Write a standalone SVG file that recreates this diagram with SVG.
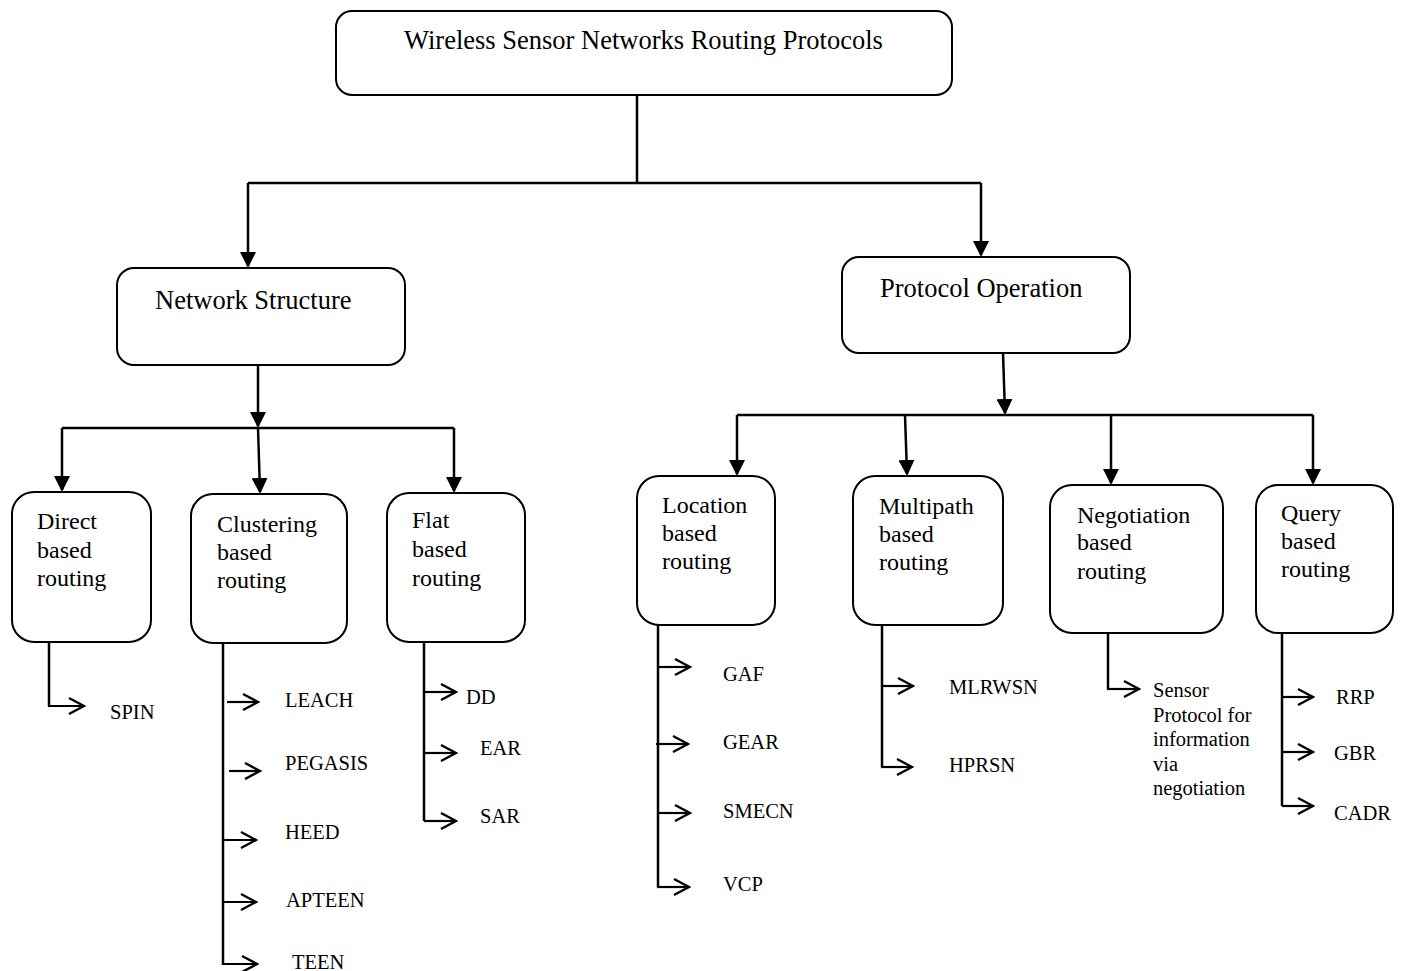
<svg xmlns="http://www.w3.org/2000/svg" width="1408" height="971" viewBox="0 0 1408 971">
  <style>
    .box { fill: #ffffff; stroke: #000000; stroke-width: 2; }
    .wire { fill: none; stroke: #000000; stroke-width: 2.5; }
    .head { fill: none; stroke: #000000; stroke-width: 2.5; marker-end: url(#solid); }
    .leaf { fill: none; stroke: #000000; stroke-width: 2.2; marker-end: url(#open); }
    .t1 { font-family: "Liberation Serif", "Times New Roman", serif; font-size: 26.5px; fill: #000000; }
    .t2 { font-family: "Liberation Serif", "Times New Roman", serif; font-size: 24px; fill: #000000; }
    .t3 { font-family: "Liberation Serif", "Times New Roman", serif; font-size: 20.5px; fill: #000000; }
  </style>
  <defs>
    <marker id="solid" viewBox="0 0 16 16" refX="14" refY="8" markerWidth="16" markerHeight="16" markerUnits="userSpaceOnUse" orient="auto">
      <path d="M0,0 L16,8 L0,16 Z" fill="#000000"/>
    </marker>
    <marker id="open" viewBox="-2 -2 20 20" refX="16" refY="8" markerWidth="20" markerHeight="20" markerUnits="userSpaceOnUse" orient="auto">
      <path d="M1,0 L16,8 L1,16" fill="none" stroke="#000000" stroke-width="2.4"/>
    </marker>
  </defs>
  <rect width="1408" height="971" fill="#ffffff"/>

  <!-- connectors -->
  <g id="connectors">
    <!-- root to the two families -->
    <path class="wire" d="M637,95 V183 M248,183 H981"/>
    <path class="head" d="M248,183 V266"/>
    <path class="head" d="M981,183 V255"/>

    <!-- network structure branch -->
    <path class="head" d="M258,366 V426"/>
    <path class="wire" d="M62,428 H454"/>
    <path class="head" d="M62,428 V490"/>
    <path class="head" d="M258,428 L260,492"/>
    <path class="head" d="M454,428 V491"/>

    <!-- protocol operation branch -->
    <path class="head" d="M1003,353 L1005,413"/>
    <path class="wire" d="M737,415 H1313"/>
    <path class="head" d="M737,415 V474"/>
    <path class="head" d="M905,415 L907,474"/>
    <path class="head" d="M1111,415 V483"/>
    <path class="head" d="M1313,415 V483"/>

    <!-- leaves: direct -->
    <path class="wire" d="M49,642 V706"/>
    <path class="leaf" d="M48,706 H84"/>

    <!-- leaves: clustering -->
    <path class="wire" d="M223,643 V965"/>
    <path class="leaf" d="M227,702 H258"/>
    <path class="leaf" d="M229,771 H260"/>
    <path class="leaf" d="M223,840 H256"/>
    <path class="leaf" d="M223,902 H256"/>
    <path class="leaf" d="M224,964 H257"/>

    <!-- leaves: flat -->
    <path class="wire" d="M424,642 V821"/>
    <path class="leaf" d="M424,692 H456"/>
    <path class="leaf" d="M424,753 H456"/>
    <path class="leaf" d="M424,821 H456"/>

    <!-- leaves: location -->
    <path class="wire" d="M658,625 V887"/>
    <path class="leaf" d="M658,667 H690"/>
    <path class="leaf" d="M656,744 H688"/>
    <path class="leaf" d="M658,813 H690"/>
    <path class="leaf" d="M657,887 H689"/>

    <!-- leaves: multipath -->
    <path class="wire" d="M882,625 V767"/>
    <path class="leaf" d="M882,686 H913"/>
    <path class="leaf" d="M881,767 H912"/>

    <!-- leaves: negotiation -->
    <path class="wire" d="M1108,633 V689"/>
    <path class="leaf" d="M1107,689 H1139"/>

    <!-- leaves: query -->
    <path class="wire" d="M1282,633 V806"/>
    <path class="leaf" d="M1282,697 H1313"/>
    <path class="leaf" d="M1282,752 H1313"/>
    <path class="leaf" d="M1282,806 H1313"/>
  </g>

  <!-- root -->
  <g id="root">
    <rect class="box" x="336" y="11" width="616" height="84" rx="16"/>
    <text class="t1" x="404" y="49">Wireless Sensor Networks Routing Protocols</text>
  </g>

  <!-- families -->
  <g id="network-structure">
    <rect class="box" x="117" y="268" width="288" height="97" rx="17"/>
    <text class="t1" x="155" y="309">Network Structure</text>
  </g>
  <g id="protocol-operation">
    <rect class="box" x="842" y="257" width="288" height="96" rx="17"/>
    <text class="t1" x="880" y="297">Protocol Operation</text>
  </g>

  <!-- routing classes -->
  <g id="direct">
    <rect class="box" x="12" y="492" width="139" height="150" rx="22"/>
    <text class="t2" x="37" y="529">Direct</text>
    <text class="t2" x="37" y="558">based</text>
    <text class="t2" x="37" y="586">routing</text>
  </g>
  <g id="clustering">
    <rect class="box" x="191" y="494" width="156" height="149" rx="22"/>
    <text class="t2" x="217" y="532">Clustering</text>
    <text class="t2" x="217" y="560">based</text>
    <text class="t2" x="217" y="588">routing</text>
  </g>
  <g id="flat">
    <rect class="box" x="387" y="493" width="138" height="149" rx="22"/>
    <text class="t2" x="412" y="528">Flat</text>
    <text class="t2" x="412" y="557">based</text>
    <text class="t2" x="412" y="586">routing</text>
  </g>
  <g id="location">
    <rect class="box" x="637" y="476" width="138" height="149" rx="22"/>
    <text class="t2" x="662" y="513">Location</text>
    <text class="t2" x="662" y="541">based</text>
    <text class="t2" x="662" y="569">routing</text>
  </g>
  <g id="multipath">
    <rect class="box" x="853" y="476" width="150" height="149" rx="22"/>
    <text class="t2" x="879" y="514">Multipath</text>
    <text class="t2" x="879" y="542">based</text>
    <text class="t2" x="879" y="570">routing</text>
  </g>
  <g id="negotiation">
    <rect class="box" x="1050" y="485" width="173" height="148" rx="22"/>
    <text class="t2" x="1077" y="523">Negotiation</text>
    <text class="t2" x="1077" y="550">based</text>
    <text class="t2" x="1077" y="579">routing</text>
  </g>
  <g id="query">
    <rect class="box" x="1256" y="485" width="137" height="148" rx="22"/>
    <text class="t2" x="1281" y="521">Query</text>
    <text class="t2" x="1281" y="549">based</text>
    <text class="t2" x="1281" y="577">routing</text>
  </g>

  <!-- protocols -->
  <g id="leaf-direct">
    <text class="t3" x="110" y="719">SPIN</text>
  </g>
  <g id="leaf-clustering">
    <text class="t3" x="285" y="707">LEACH</text>
    <text class="t3" x="285" y="770">PEGASIS</text>
    <text class="t3" x="285" y="839">HEED</text>
    <text class="t3" x="286" y="907">APTEEN</text>
    <text class="t3" x="292" y="969">TEEN</text>
  </g>
  <g id="leaf-flat">
    <text class="t3" x="466" y="704">DD</text>
    <text class="t3" x="480" y="755">EAR</text>
    <text class="t3" x="480" y="823">SAR</text>
  </g>
  <g id="leaf-location">
    <text class="t3" x="723" y="681">GAF</text>
    <text class="t3" x="723" y="749">GEAR</text>
    <text class="t3" x="723" y="818">SMECN</text>
    <text class="t3" x="723" y="891">VCP</text>
  </g>
  <g id="leaf-multipath">
    <text class="t3" x="949" y="694">MLRWSN</text>
    <text class="t3" x="949" y="772">HPRSN</text>
  </g>
  <g id="leaf-negotiation">
    <text class="t3" x="1153" y="697">Sensor</text>
    <text class="t3" x="1153" y="722">Protocol for</text>
    <text class="t3" x="1153" y="746">information</text>
    <text class="t3" x="1153" y="771">via</text>
    <text class="t3" x="1153" y="795">negotiation</text>
  </g>
  <g id="leaf-query">
    <text class="t3" x="1336" y="704">RRP</text>
    <text class="t3" x="1334" y="760">GBR</text>
    <text class="t3" x="1334" y="820">CADR</text>
  </g>
</svg>
